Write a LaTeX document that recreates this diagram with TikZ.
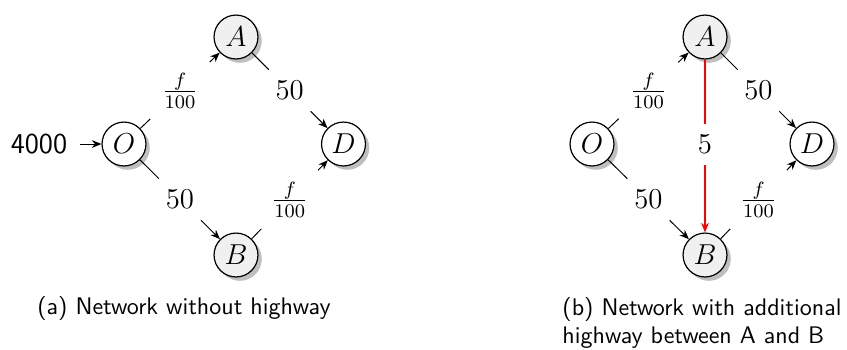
\documentclass[tikz,border=0pt]{standalone}
\usetikzlibrary{arrows.meta,shadows}
\begin{document}
\begin{tikzpicture}[x=0.41667pt,y=-0.41667pt,
  vtx/.style={circle,draw,line width=0.5pt,minimum size=18.3pt,inner sep=0pt,font=\large,
    drop shadow={shadow xshift=1.6pt,shadow yshift=-1.6pt,fill=black!25,opacity=1}},
  vwhite/.style={vtx,fill=white},
  vgray/.style={vtx,fill=black!6},
  lbl/.style={inner sep=4.6pt,font=\large},
  con/.style={line width=0.4pt},
  arr/.style={con,-{Stealth[length=4pt,width=3.2pt]}},
  hw/.style={line width=0.5pt,red,-{Stealth[length=4pt,width=3.2pt]}},
  captxt/.style={font=\sffamily,inner sep=0pt}]
\useasboundingbox (0,0) rectangle (847,349);
% (a)
\node[vwhite] (O1) at (124,144) {$O$};
\node[vgray]  (A1) at (236,37)  {$A$};
\node[vwhite] (D1) at (343.5,144) {$D$};
\node[vgray]  (B1) at (236,255) {$B$};
\node[lbl,font=\sffamily\large,inner sep=5pt] (in1) at (39,144) {4000};
\node[lbl] (oa1) at (180,90.5) {$\frac{f}{100}$};
\node[lbl] (ad1) at (289.75,90.5) {$50$};
\node[lbl] (ob1) at (180,199.5) {$50$};
\node[lbl] (bd1) at (289.75,199.5) {$\frac{f}{100}$};
\draw[arr] (in1) -- (O1);
\draw[con] (O1) -- (oa1); \draw[arr] (oa1) -- (A1);
\draw[con] (A1) -- (ad1); \draw[arr] (ad1) -- (D1);
\draw[con] (O1) -- (ob1); \draw[arr] (ob1) -- (B1);
\draw[con] (B1) -- (bd1); \draw[arr] (bd1) -- (D1);
\node[captxt] (capa) at (184,308) {(a) Network without highway};
% (b)
\node[vwhite] (O2) at (592,144) {$O$};
\node[vgray]  (A2) at (705,37)  {$A$};
\node[vwhite] (D2) at (812,144) {$D$};
\node[vgray]  (B2) at (705,255) {$B$};
\node[lbl] (oa2) at (648.5,90.5) {$\frac{f}{100}$};
\node[lbl] (ad2) at (758.5,90.5) {$50$};
\node[lbl] (ob2) at (648.5,199.5) {$50$};
\node[lbl] (bd2) at (758.5,199.5) {$\frac{f}{100}$};
\node[lbl] (ab2) at (705,144.5) {$5$};
\draw[con] (O2) -- (oa2); \draw[arr] (oa2) -- (A2);
\draw[con] (A2) -- (ad2); \draw[arr] (ad2) -- (D2);
\draw[con] (O2) -- (ob2); \draw[arr] (ob2) -- (B2);
\draw[con] (B2) -- (bd2); \draw[arr] (bd2) -- (D2);
\draw[hw,-] (A2) -- (ab2); \draw[hw] (ab2) -- (B2);
\node[captxt,anchor=west,align=left] (capb) at (562,323) {(b) Network with additional\\highway between A and B};
\end{tikzpicture}
\end{document}
